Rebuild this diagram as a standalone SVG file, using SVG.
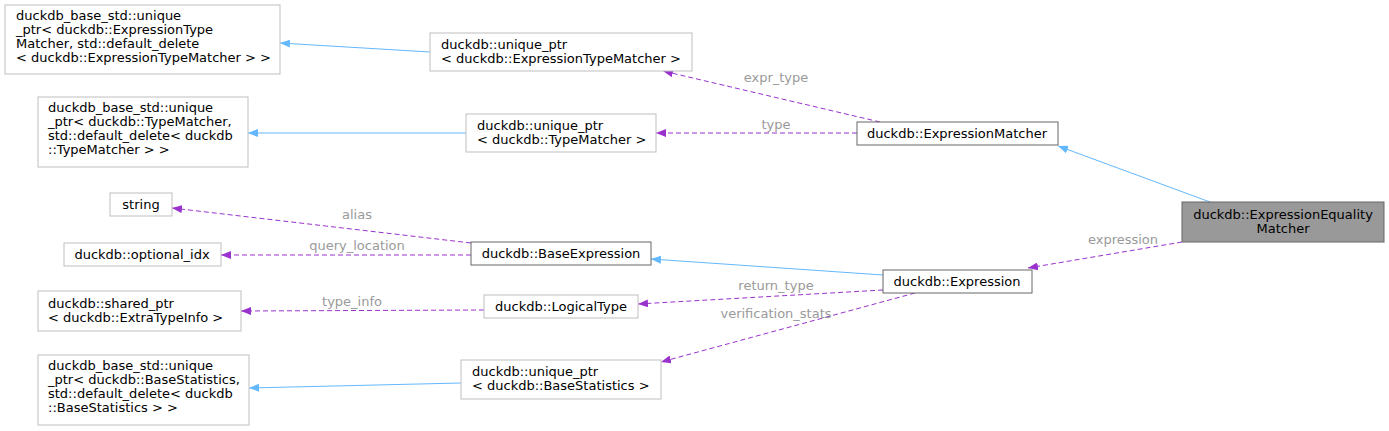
<svg xmlns="http://www.w3.org/2000/svg" width="1389" height="431" viewBox="0 0 1389 431">
<style>
text{font-family:"DejaVu Sans",sans-serif;font-size:13px;fill:#000}
.n{fill:#fff;stroke:#bfbfbf}
.d{fill:#fff;stroke:#666}
.b{fill:none;stroke:#63b8ff}
.p{fill:none;stroke:#9a32cd;stroke-dasharray:5,3}
.l{fill:#9a9a9a;text-anchor:middle}
.c{text-anchor:middle}
</style>
<defs>
<marker id="ab" markerWidth="10" markerHeight="8" refX="10" refY="4" orient="auto" markerUnits="userSpaceOnUse"><path d="M10,4L0,0L0,8Z" fill="#63b8ff"/></marker>
<marker id="ap" markerWidth="10" markerHeight="8" refX="10" refY="4" orient="auto" markerUnits="userSpaceOnUse"><path d="M10,4L0,0L0,8Z" fill="#9a32cd"/></marker>
</defs>
<rect width="1389" height="431" fill="#fff"/>
<g id="connectors">
<path class="b" d="M430,52L280,43" marker-end="url(#ab)"/>
<path class="b" d="M466,133L248,133" marker-end="url(#ab)"/>
<path class="b" d="M1210,202L1058,146" marker-end="url(#ab)"/>
<path class="b" d="M883,275L651,259" marker-end="url(#ab)"/>
<path class="b" d="M461,383L249,388" marker-end="url(#ab)"/>
<path class="p" d="M880,122L663,71" marker-end="url(#ap)"/>
<path class="p" d="M857,133L656,133" marker-end="url(#ap)"/>
<path class="p" d="M1182,242L1028,268" marker-end="url(#ap)"/>
<path class="p" d="M471,243L172,208" marker-end="url(#ap)"/>
<path class="p" d="M471,255L221,255" marker-end="url(#ap)"/>
<path class="p" d="M883,290L638,304" marker-end="url(#ap)"/>
<path class="p" d="M484,310L241,311" marker-end="url(#ap)"/>
<path class="p" d="M915,293L661,362" marker-end="url(#ap)"/>
<text class="l" x="776" y="82">expr_type</text>
<text class="l" x="776" y="129">type</text>
<text class="l" x="1123" y="244">expression</text>
<text class="l" x="357" y="219">alias</text>
<text class="l" x="357" y="250">query_location</text>
<text class="l" x="776" y="290">return_type</text>
<text class="l" x="352" y="306">type_info</text>
<text class="l" x="776" y="318">verification_stats</text>
</g>
<g id="n1"><rect class="n" x="5" y="5" width="275" height="69"/><text x="16" y="20">duckdb_base_std::unique</text><text x="16" y="34">_ptr&lt; duckdb::ExpressionType</text><text x="16" y="48">Matcher, std::default_delete</text><text x="16" y="62">&lt; duckdb::ExpressionTypeMatcher &gt; &gt;</text></g>
<g id="n2"><rect class="n" x="430" y="33" width="262" height="38"/><text x="441" y="49">duckdb::unique_ptr</text><text x="441" y="63">&lt; duckdb::ExpressionTypeMatcher &gt;</text></g>
<g id="n3"><rect class="n" x="38" y="97" width="210" height="70"/><text x="48" y="112">duckdb_base_std::unique</text><text x="48" y="126">_ptr&lt; duckdb::TypeMatcher,</text><text x="48" y="140">std::default_delete&lt; duckdb</text><text x="48" y="154">::TypeMatcher &gt; &gt;</text></g>
<g id="n4"><rect class="n" x="466" y="114" width="190" height="38"/><text x="477" y="130">duckdb::unique_ptr</text><text x="477" y="144">&lt; duckdb::TypeMatcher &gt;</text></g>
<g id="n5"><rect class="d" x="857" y="122" width="201" height="23"/><text class="c" x="957" y="138">duckdb::ExpressionMatcher</text></g>
<g id="n6"><rect class="n" x="110" y="193" width="62" height="23"/><text class="c" x="141" y="209">string</text></g>
<g id="n7"><rect class="n" x="64" y="243" width="157" height="23"/><text class="c" x="142" y="259">duckdb::optional_idx</text></g>
<g id="n8"><rect class="d" x="471" y="242" width="180" height="23"/><text class="c" x="561" y="258">duckdb::BaseExpression</text></g>
<g id="n9"><rect x="1182" y="202" width="202" height="40" fill="#999" stroke="#666"/><text class="c" x="1283" y="219">duckdb::ExpressionEquality</text><text class="c" x="1283" y="233">Matcher</text></g>
<g id="n10"><rect class="d" x="883" y="270" width="149" height="23"/><text class="c" x="957" y="286">duckdb::Expression</text></g>
<g id="n11"><rect class="n" x="38" y="291" width="203" height="40"/><text x="48" y="308">duckdb::shared_ptr</text><text x="48" y="322">&lt; duckdb::ExtraTypeInfo &gt;</text></g>
<g id="n12"><rect class="n" x="484" y="295" width="154" height="23"/><text class="c" x="561" y="311">duckdb::LogicalType</text></g>
<g id="n13"><rect class="n" x="38" y="355" width="211" height="70"/><text x="48" y="370">duckdb_base_std::unique</text><text x="48" y="384">_ptr&lt; duckdb::BaseStatistics,</text><text x="48" y="398">std::default_delete&lt; duckdb</text><text x="48" y="412">::BaseStatistics &gt; &gt;</text></g>
<g id="n14"><rect class="n" x="461" y="360" width="200" height="39"/><text x="472" y="376">duckdb::unique_ptr</text><text x="472" y="390">&lt; duckdb::BaseStatistics &gt;</text></g>
</svg>
